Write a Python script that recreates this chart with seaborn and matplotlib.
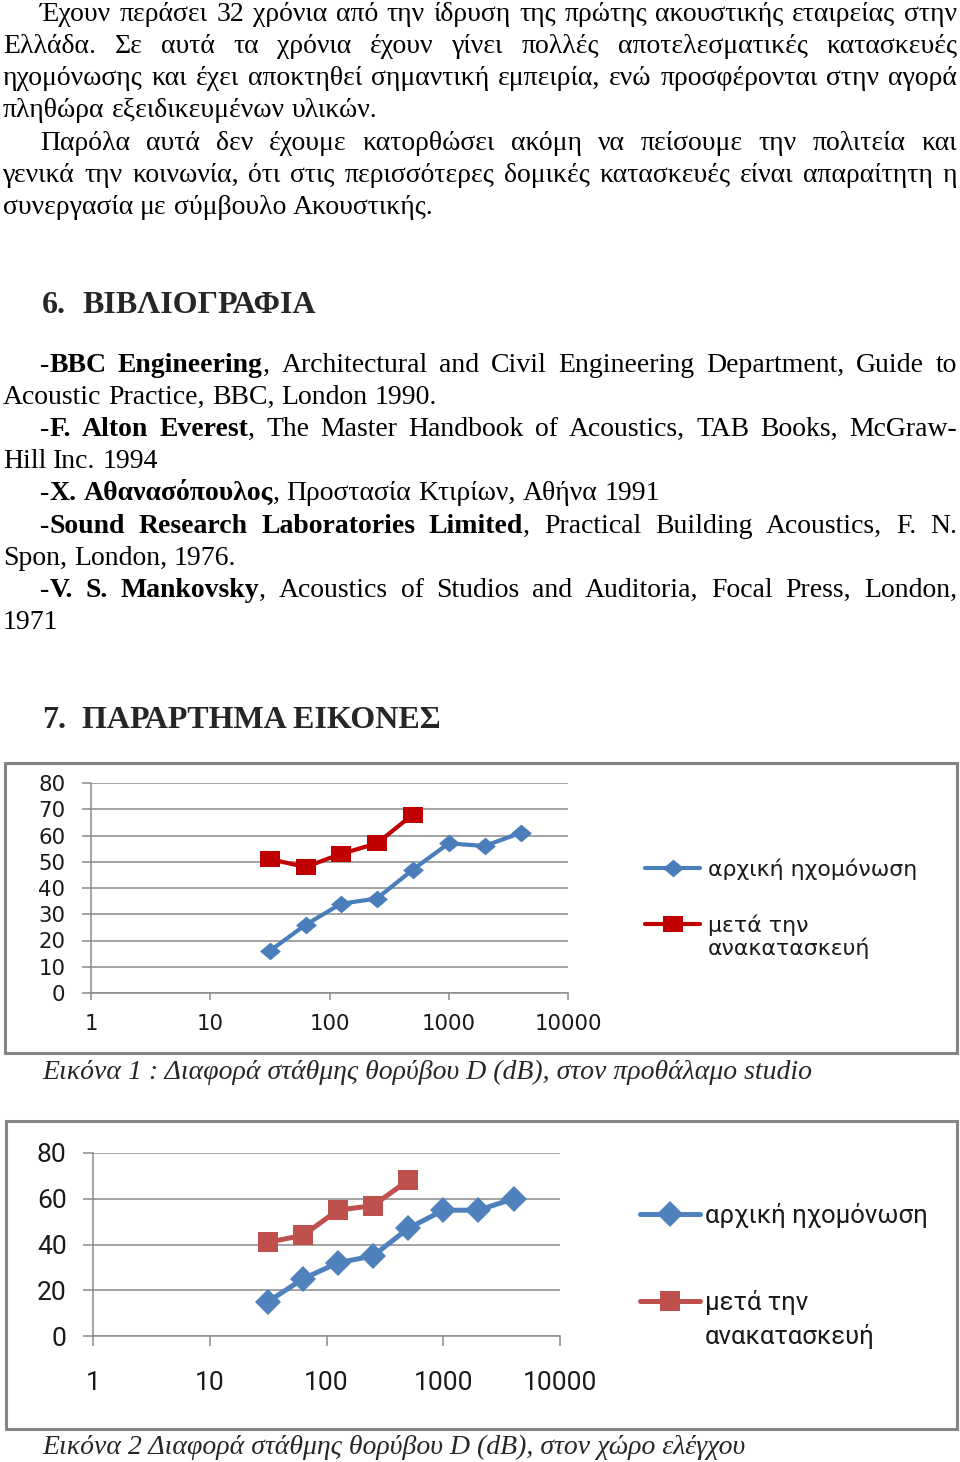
import numpy as np
import pandas as pd
import matplotlib
matplotlib.use("Agg")
import matplotlib.pyplot as plt
from matplotlib.patches import Rectangle
from matplotlib.path import Path
import seaborn as sns

# ---------------- data ----------------
freq_hz = [31.5, 63, 125, 250, 500, 1000, 2000, 4000]
fig1_initial = [16, 26, 34, 36, 47, 57, 56, 61]
fig1_after = [51, 48, 53, 57, 68]
fig2_initial = [15, 25, 32, 35, 47, 55, 55, 60]
fig2_after = [41, 44, 55, 57, 68]
x_ticks = [1, 10, 100, 1000, 10000]
x_tick_labels = ["1", "10", "100", "1000", "10000"]
fig1_yticks = [0, 10, 20, 30, 40, 50, 60, 70, 80]
fig2_yticks = [0, 20, 40, 60, 80]
label_initial = "αρχική ηχομόνωση"
label_after_1 = "μετά την"
label_after_2 = "ανακατασκευή"

para_lines = [
    (21, 40, "Έχουν περάσει 32 χρόνια από την ίδρυση της πρώτης ακουστικής εταιρείας στην", True),
    (53, 3, "Ελλάδα. Σε αυτά τα χρόνια έχουν γίνει πολλές αποτελεσματικές κατασκευές", True),
    (85, 3, "ηχομόνωσης και έχει αποκτηθεί σημαντική εμπειρία, ενώ προσφέρονται στην αγορά", True),
    (117, 3, "πληθώρα εξειδικευμένων υλικών.", False),
    (150, 40, "Παρόλα αυτά δεν έχουμε κατορθώσει ακόμη να πείσουμε την πολιτεία και", True),
    (182, 3, "γενικά την κοινωνία, ότι στις περισσότερες δομικές κατασκευές είναι απαραίτητη η", True),
    (214, 3, "συνεργασία με σύμβουλο Ακουστικής.", False),
    (372, 40, "-**BBC Engineering**, Architectural and Civil Engineering Department, Guide to", True),
    (404, 3, "Acoustic Practice, BBC, London 1990.", False),
    (436, 40, "-**F. Alton Everest**, The Master Handbook of Acoustics, TAB Books, McGraw-", True),
    (468, 3, "Hill Inc. 1994", False),
    (500, 40, "-**Χ. Αθανασόπουλος**, Προστασία Κτιρίων, Αθήνα 1991", False),
    (533, 40, "-**Sound Research Laboratories Limited**, Practical Building Acoustics, F. N.", True),
    (565, 3, "Spon, London, 1976.", False),
    (597, 40, "-**V. S. Mankovsky**, Acoustics of Studios and Auditoria, Focal Press, London,", True),
    (629, 3, "1971", False),
]
headings = [(313, "6.", "ΒΙΒΛΙΟΓΡΑΦΙΑ"), (728, "7.", "ΠΑΡΑΡΤΗΜΑ ΕΙΚΟΝΕΣ")]
captions = [
    (1079, "Εικόνα 1 : Διαφορά στάθμης θορύβου D (dB), στον προθάλαμο studio"),
    (1454, "Εικόνα 2 Διαφορά στάθμης θορύβου D (dB), στον χώρο ελέγχου"),
]

# ---------------- setup ----------------
W, H = 960, 1462
sns.set_style("white")
plt.rcParams["font.family"] = ["DejaVu Sans"]
SERIF = ["Liberation Serif", "DejaVu Serif"]
BODY = 20.0
HEAD = 23.0

fig = plt.figure(figsize=(W / 100, H / 100), dpi=100)
fig.patch.set_facecolor("white")
renderer = fig.canvas.get_renderer()


def fy(y):
    return 1 - y / H


def place_line(y, x0, markup, x1=None, size=BODY, style="normal"):
    parts = markup.split("**")
    runs = []
    for i, p in enumerate(parts):
        if p:
            runs.append((p, i % 2 == 1))
    words = [[]]
    for txt, b in runs:
        pieces = txt.split(" ")
        for j, pc in enumerate(pieces):
            if j > 0:
                words.append([])
            if pc:
                words[-1].append((pc, b))
    words = [w for w in words if w]
    objs, widths = [], []
    for w in words:
        row, ww = [], 0.0
        for pc, b in w:
            t = fig.text(0, fy(y), pc, fontsize=size, family=SERIF,
                         fontweight="bold" if b else "normal", fontstyle=style,
                         va="baseline", ha="left", color="black")
            wd = t.get_window_extent(renderer).width
            row.append((t, wd))
            ww += wd
        objs.append(row)
        widths.append(ww)
    space = 0.25 * size * 100 / 72
    if x1 is None or len(words) < 2:
        gap = space
    else:
        gap = (x1 - x0 - sum(widths)) / (len(words) - 1)
    x = x0
    for row in objs:
        for t, wd in row:
            t.set_x(x / W)
            x += wd
        x += gap


for y, x0, txt, just in para_lines:
    place_line(y, x0, txt, x1=957 if just else None)

for y, num, title in headings:
    fig.text(42 / W, fy(y), num, fontsize=HEAD, family=SERIF, fontweight="bold", va="baseline")
    fig.text(82 / W, fy(y), title, fontsize=HEAD, family=SERIF, fontweight="bold", va="baseline")

for y, txt in captions:
    fig.text(42 / W, fy(y), txt, fontsize=BODY, family=SERIF, fontstyle="italic", va="baseline")

# chart frames
for (x0, y0, x1, y1) in [(5, 763, 957, 1053), (6, 1121, 957, 1429)]:
    fig.patches.append(Rectangle((x0 / W, fy(y1)), (x1 - x0) / W, (y1 - y0) / H,
                                 transform=fig.transFigure, fill=False,
                                 edgecolor="#858585", linewidth=2.2))

wide_sq = Path([(-1, -0.78), (1, -0.78), (1, 0.78), (-1, 0.78), (-1, -0.78)],
               [Path.MOVETO, Path.LINETO, Path.LINETO, Path.LINETO, Path.CLOSEPOLY])
wide_dm = Path([(0, -0.85), (1, 0), (0, 0.85), (-1, 0), (0, -0.85)],
               [Path.MOVETO, Path.LINETO, Path.LINETO, Path.LINETO, Path.CLOSEPOLY])


def style_axes(ax, yticks, font, fsize, ytick_len, xtick_len, ypad, xpad):
    ax.set_xscale("log")
    ax.set_xlim(1, 10000)
    ax.set_ylim(0, 80)
    ax.set_xticks(x_ticks)
    ax.set_xticklabels(x_tick_labels)
    ax.minorticks_off()
    ax.set_yticks(yticks)
    ax.set_yticklabels([str(v) for v in yticks])
    ax.grid(axis="y", color="#8a8a8a", linewidth=1.1)
    ax.grid(axis="x", visible=False)
    ax.set_axisbelow(True)
    for s in ["top", "right"]:
        ax.spines[s].set_visible(False)
    for s in ["left", "bottom"]:
        ax.spines[s].set_color("#8a8a8a")
        ax.spines[s].set_linewidth(1.1)
    ax.tick_params(axis="y", direction="out", length=ytick_len, width=1.1, color="#8a8a8a",
                   pad=ypad, labelsize=fsize, labelcolor="#1a1a1a", left=True)
    ax.tick_params(axis="x", direction="out", length=xtick_len, width=1.1, color="#8a8a8a",
                   pad=xpad, labelsize=fsize, labelcolor="#1a1a1a", bottom=True)
    for lab in ax.get_xticklabels() + ax.get_yticklabels():
        lab.set_family(font)
    ax.set_xlabel("")
    ax.set_ylabel("")
    ax.patch.set_alpha(0)


def add_legend(ax, font, fsize, x_px, y_top_px, hl, htp, ls, second_dy):
    leg = ax.legend(loc="upper left", bbox_to_anchor=(x_px / W, fy(y_top_px)),
                    bbox_transform=fig.transFigure, frameon=False, borderpad=0,
                    borderaxespad=0, handlelength=hl, handletextpad=htp,
                    labelspacing=ls, numpoints=1, prop={"family": font, "size": fsize})
    for t in leg.get_texts():
        t.set_color("#1a1a1a")
    fig.canvas.draw()
    bb = leg.get_texts()[1].get_window_extent(renderer)
    fig.text(bb.x0 / W, (bb.y0 - second_dy) / H, label_after_2, family=font,
             fontsize=fsize, color="#1a1a1a", va="bottom", ha="left")


# ---------------- chart 1 ----------------
ax1 = fig.add_axes([91 / W, fy(993), 477 / W, 210 / H])
f1 = ["DejaVu Sans"]
df1a = pd.DataFrame({"f": freq_hz, "D": fig1_initial})
df1b = pd.DataFrame({"f": freq_hz[:len(fig1_after)], "D": fig1_after})
sns.lineplot(data=df1a, x="f", y="D", ax=ax1, color="#4a7ebb", linewidth=3.0,
             marker=wide_dm, markersize=15, markeredgewidth=0, markeredgecolor="#4a7ebb",
             errorbar=None, label=label_initial)
sns.lineplot(data=df1b, x="f", y="D", ax=ax1, color="#c00000", linewidth=3.0,
             marker=wide_sq, markersize=15, markeredgewidth=0, markeredgecolor="#c00000",
             errorbar=None, label=label_after_1)
style_axes(ax1, fig1_yticks, f1, 15.3, 6.5, 5, 12, 10)
fs1 = 15.8 * 100 / 72
add_legend(ax1, f1, 15.8, 645, 858, 55 / fs1, 8 / fs1, 1.6, 23)

# ---------------- chart 2 ----------------
ax2 = fig.add_axes([93 / W, fy(1336), 467 / W, 183 / H])
f2 = ["Roboto", "DejaVu Sans"]
df2a = pd.DataFrame({"f": freq_hz, "D": fig2_initial})
df2b = pd.DataFrame({"f": freq_hz[:len(fig2_after)], "D": fig2_after})
sns.lineplot(data=df2a, x="f", y="D", ax=ax2, color="#4f81bd", linewidth=3.6,
             marker="D", markersize=13, markeredgewidth=0, markeredgecolor="#4f81bd",
             errorbar=None, label=label_initial)
sns.lineplot(data=df2b, x="f", y="D", ax=ax2, color="#c0504d", linewidth=3.6,
             marker="s", markersize=14.5, markeredgewidth=0, markeredgecolor="#c0504d",
             errorbar=None, label=label_after_1)
style_axes(ax2, fig2_yticks, f2, 19, 7, 7, 12, 18)
fs2 = 18.5 * 100 / 72
add_legend(ax2, f2, 18.5, 640, 1203, 60 / fs2, 5 / fs2, 2.4, 34)

fig.savefig("out.png", dpi=100, facecolor="white")
